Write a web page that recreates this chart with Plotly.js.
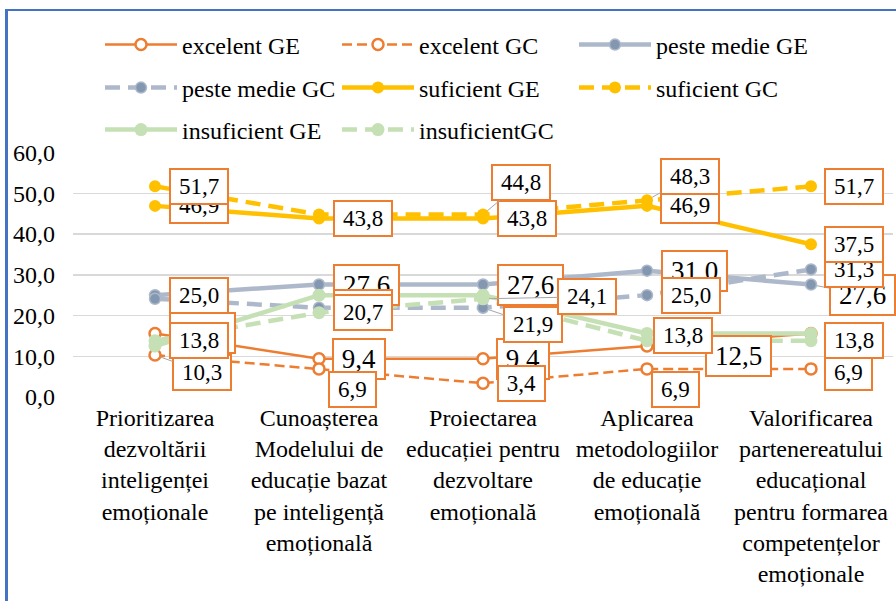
<!DOCTYPE html>
<html><head><meta charset="utf-8">
<script src="https://cdn.plot.ly/plotly-3.0.1.min.js"></script>
<style>
html,body{margin:0;padding:0;background:#fff;overflow:hidden;}
#frame{position:absolute;left:5px;top:9px;width:1000px;height:700px;border-left:3px solid #4472C4;border-top:2.5px solid #4472C4;}
#chart{position:absolute;left:0;top:0;width:896px;height:601px;}
#chart text{font-family:'Liberation Serif' !important;}
</style></head><body>
<div id="frame"></div><div id="chart"></div>
<script>
// ---- data ----
const categories = [
  'Prioritizarea<br>dezvoltării<br>inteligenței<br>emoționale',
  'Cunoașterea<br>Modelului de<br>educație bazat<br>pe inteligență<br>emoțională',
  'Proiectarea<br>educației pentru<br>dezvoltare<br>emoțională',
  'Aplicarea<br>metodologiilor<br>de educație<br>emoțională',
  'Valorificarea<br>partenereatului<br>educațional<br>pentru formarea<br>competențelor<br>emoționale'
];
const seriesNames = ['excelent GE','excelent GC','peste medie GE','peste medie GC','suficient GE','suficient GC','insuficient GE','insuficientGC'];
const excelentGE    = [15.6, 9.4, 9.4, 12.5, 15.6];
const excelentGC    = [10.3, 6.9, 3.4, 6.9, 6.9];
const pesteMedieGE  = [25.0, 27.6, 27.6, 31.0, 27.6];
const pesteMedieGC  = [24.1, 21.9, 21.9, 25.0, 31.3];
const suficientGE   = [46.9, 43.8, 43.8, 46.9, 37.5];
const suficientGC   = [51.7, 44.8, 44.8, 48.3, 51.7];
const insuficientGE = [12.5, 25.0, 25.0, 15.6, 15.6];
const insuficientGC = [13.8, 20.7, 24.1, 13.8, 13.8];
const yTicks = [0, 10, 20, 30, 40, 50, 60];

const seriesValues = [excelentGE, excelentGC, pesteMedieGE, pesteMedieGC, suficientGE, suficientGC, insuficientGE, insuficientGC];

// ---- styles ----
const FONT = 'Liberation Serif';
const ORANGE = '#ED7D31', GRAY = '#ADB9CA', GRAYM = '#8497B0', YELLOW = '#FFC000', GREEN = '#C5E0B4';
const styles = [
  {line:{color:ORANGE, width:2.5, dash:'solid'}, marker:{symbol:'circle', size:11, color:'#FFFFFF', line:{color:ORANGE, width:2.5}}},
  {line:{color:ORANGE, width:2.5, dash:'10px,5px'}, marker:{symbol:'circle', size:11, color:'#FFFFFF', line:{color:ORANGE, width:2.5}}},
  {line:{color:GRAY, width:4.5, dash:'solid'}, marker:{symbol:'circle', size:11, color:GRAYM, line:{color:GRAY, width:1.5}}},
  {line:{color:GRAY, width:4.5, dash:'15px,8px'}, marker:{symbol:'circle', size:11, color:GRAYM, line:{color:GRAY, width:1.5}}},
  {line:{color:YELLOW, width:4.5, dash:'solid'}, marker:{symbol:'circle', size:12, color:YELLOW}},
  {line:{color:YELLOW, width:4.5, dash:'15px,8px'}, marker:{symbol:'circle', size:12, color:YELLOW}},
  {line:{color:GREEN, width:4.5, dash:'solid'}, marker:{symbol:'circle', size:13, color:GREEN}},
  {line:{color:GREEN, width:4.5, dash:'15px,8px'}, marker:{symbol:'circle', size:13, color:GREEN}}
];
const legendOf = ['legend','legend','legend','legend2','legend2','legend2','legend3','legend3'];

// label placement (pixel offset of label box centre from the point): [ax, ay, leaderLine, bigFont]
const labelPlacement = [
  [[47,0,0,1],[40,0,0,1],[40,0,0,1],[91,10,1,1],null],
  [[47,17,1,0],[33,21,0,0],[38,0,0,0],[28,21,0,0],[37,4,0,0]],
  [[44,0,0,0],[47,0,0,1],[47,0,0,1],[47,0,0,1],[51,10,1,1]],
  [null,[44,0,0,0],[50,17,1,0],[44,0,0,0],[43,0,0,0]],
  [[44,0,0,0],[44,0,0,0],[44,0,0,0],[43,0,0,0],[43,0,0,0]],
  [[44,0,0,0],null,[38,-32,1,0],[43,-24,1,0],[43,0,0,0]],
  [null,null,null,null,null],
  [[44,0,0,0],[44,0,0,0],[104,-2,1,0],[36,-5,0,0],[43,0,0,0]]
];

const traces = seriesValues.map((vals, i) => ({
  type:'scatter', mode:'lines+markers', x:categories, y:vals, name:seriesNames[i],
  line:styles[i].line, marker:styles[i].marker, legend:legendOf[i], hoverinfo:'skip'
}));

const fmt = v => v.toFixed(1).replace('.', ',');
const annotations = [];
seriesValues.forEach((vals, s) => {
  vals.forEach((v, c) => {
    const p = labelPlacement[s][c];
    if (!p) return;
    const txt = fmt(v);
    const fs = p[3] ? 27 : 23;
    const w = (txt.length - 1) * 0.5 * fs + 0.25 * fs + 16;
    annotations.push({
      x: categories[c], y: v, xref:'x', yref:'y', text: txt,
      showarrow: true, ax: p[0], ay: p[1], axref:'pixel', ayref:'pixel',
      arrowhead: 0, arrowwidth: 1, standoff: 6,
      arrowcolor: p[2] ? '#A6A6A6' : 'rgba(0,0,0,0)',
      font:{family:FONT, size:fs, color:'#000'},
      bgcolor:'#FFFFFF', bordercolor:ORANGE, borderwidth:2, borderpad:0,
      width: w, height: p[3] ? 38 : 33, align:'center', valign:'middle'
    });
  });
});

const legendBase = {
  orientation:'h', xref:'container', yref:'container', xanchor:'left', yanchor:'middle',
  entrywidth:150, entrywidthmode:'pixels', itemwidth:72, bgcolor:'rgba(0,0,0,0)',
  font:{family:FONT, size:24, color:'#000'}, traceorder:'normal', itemclick:false
};

const layout = {
  width:896, height:601,
  margin:{l:73, r:3, t:124, b:204, pad:0},
  paper_bgcolor:'rgba(0,0,0,0)', plot_bgcolor:'rgba(0,0,0,0)',
  separators:', ',
  font:{family:FONT, size:24, color:'#000'},
  showlegend:true,
  legend: Object.assign({}, legendBase, {x:100/896, y:1-45/601}),
  legend2: Object.assign({}, legendBase, {x:100/896, y:1-88/601}),
  legend3: Object.assign({}, legendBase, {x:100/896, y:1-130/601}),
  xaxis:{type:'category', range:[-0.5, 4.5], showgrid:false, zeroline:false, showline:false,
         ticks:'', tickfont:{family:FONT, size:24, color:'#000'}, ticklabelstandoff:4, automargin:false},
  yaxis:{range:[0, 60], tickvals:yTicks, tickformat:'.1f', showgrid:true, gridcolor:'#D9D9D9', gridwidth:1.5,
         zeroline:false, showline:false, ticks:'', ticklabelstandoff:17,
         tickfont:{family:FONT, size:24, color:'#000'}, automargin:false},
  annotations: annotations
};

Plotly.newPlot('chart', traces, layout, {staticPlot:true, displayModeBar:false});
</script>
</body></html>
